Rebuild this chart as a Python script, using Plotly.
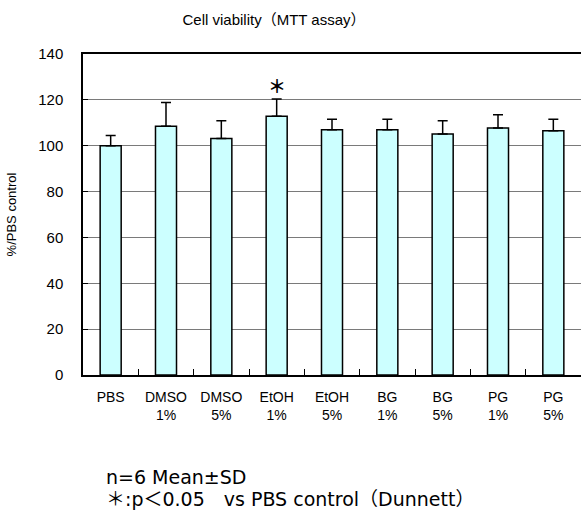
import plotly.graph_objects as go

categories = ["PBS", "DMSO<br>1%", "DMSO<br>5%", "EtOH<br>1%", "EtOH<br>5%",
              "BG<br>1%", "BG<br>5%", "PG<br>1%", "PG<br>5%"]
means = [100.0, 108.5, 103.2, 112.8, 107.0, 107.0, 105.1, 107.7, 106.5]
sds = [4.5, 10.3, 7.7, 7.6, 4.5, 4.5, 5.8, 5.8, 5.0]
zeros = [0] * len(means)
y_ticks = [0, 20, 40, 60, 80, 100, 120, 140]
sig_category = "EtOH<br>1%"
sig_y = 126.5

W, H = 581, 512
L, R, T, B = 83, 0, 54, 137
ph = H - T - B
pw = W - L - R


def py(pixel_y):
    return (H - B - pixel_y) / ph


fig = go.Figure()
fig.add_trace(go.Bar(
    x=categories, y=means,
    marker=dict(color="#CCFFFF", line=dict(color="black", width=1.5)),
    error_y=dict(type="data", symmetric=False, array=sds, arrayminus=zeros,
                 color="black", thickness=1.5, width=5),
    showlegend=False,
))

fig.add_annotation(x=sig_category, y=sig_y, xref="x", yref="y", text="<b>＊</b>",
                   showarrow=False, font=dict(family="Noto Sans CJK JP", size=18, color="black"),
                   yanchor="middle")

foot_font = dict(family="DejaVu Sans, Noto Sans CJK JP", size=19, color="black")
fig.add_annotation(x=(104 - L) / pw, y=py(477),
                   xref="paper", yref="paper", text="n=6 Mean±SD", showarrow=False,
                   font=foot_font, xanchor="left", yanchor="middle")
fig.add_annotation(x=(104 - L) / pw, y=py(499),
                   xref="paper", yref="paper", text="＊:p＜0.05　vs PBS control（Dunnett）",
                   showarrow=False, font=foot_font, xanchor="left", yanchor="middle")

fig.update_layout(
    width=W, height=H,
    margin=dict(l=L, r=R, t=T, b=B, autoexpand=False),
    paper_bgcolor="white", plot_bgcolor="white",
    font=dict(family="Liberation Sans, Arial", size=13, color="black"),
    title=dict(text="Cell viability（MTT assay）", x=274 / W, xanchor="center",
               y=1 - 20 / H, yanchor="middle", xref="container", yref="container",
               font=dict(family="Liberation Sans, Noto Sans CJK JP", size=15, color="black")),
    bargap=0.62,
)
fig.update_xaxes(
    type="category", showline=True, linecolor="black", linewidth=1.5, mirror=True,
    ticks="inside", ticklen=6, tickcolor="black", tickson="boundaries",
    showgrid=False, tickfont=dict(size=14), fixedrange=True, automargin=False,
    ticklabelstandoff=8,
)
fig.update_yaxes(
    range=[0, 140], tickvals=y_ticks, showline=True, linecolor="black", linewidth=1.5,
    ticks="inside", ticklen=5, tickcolor="black", showgrid=True, gridcolor="#7a7a7a",
    gridwidth=1, zeroline=False, tickfont=dict(size=15), ticklabelstandoff=15,
    automargin=False, fixedrange=True,
    title=dict(text="%/PBS control", font=dict(size=13), standoff=19),
)

fig.write_html("out.html", config={"displayModeBar": False},
               post_script="document.body.style.margin='0px';")
